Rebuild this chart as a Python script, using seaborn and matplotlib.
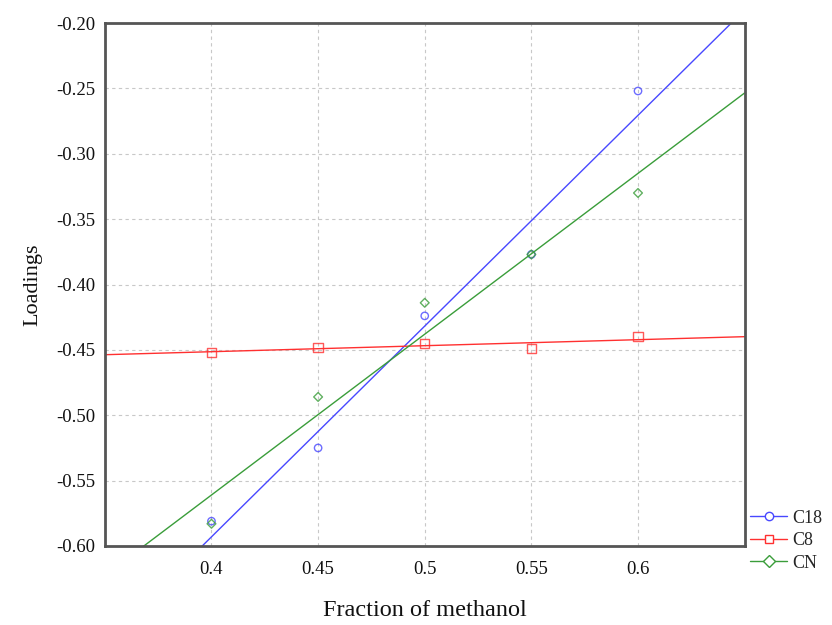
import matplotlib
matplotlib.use("Agg")
import matplotlib.pyplot as plt
import seaborn as sns
import pandas as pd
from matplotlib.lines import Line2D

# Data
fraction = [0.40, 0.45, 0.50, 0.55, 0.60]
c18 = [-0.581, -0.525, -0.424, -0.377, -0.252]
c8 = [-0.452, -0.448, -0.445, -0.449, -0.440]
cn = [-0.583, -0.486, -0.414, -0.377, -0.330]
series_names = ["C18", "C8", "CN"]
x_ticks = [0.4, 0.45, 0.5, 0.55, 0.6]
x_tick_labels = ["0.4", "0.45", "0.5", "0.55", "0.6"]
y_ticks = [-0.60, -0.55, -0.50, -0.45, -0.40, -0.35, -0.30, -0.25, -0.20]
y_tick_labels = ["-0.60", "-0.55", "-0.50", "-0.45", "-0.40", "-0.35", "-0.30", "-0.25", "-0.20"]

df = pd.DataFrame({"Fraction of methanol": fraction, "C18": c18, "C8": c8, "CN": cn})

sns.set_theme(style="white")
plt.rcParams["font.family"] = ["Liberation Serif", "DejaVu Serif"]

fig = plt.figure(figsize=(8.32, 6.25), dpi=100)
ax = fig.add_axes([0.126, 0.1264, 0.769, 0.8368])
ax.set_xlim(0.35, 0.65)
ax.set_ylim(-0.60, -0.20)

colors = {"C18": "#4848ff", "C8": "#ff3030", "CN": "#3a9d3a"}
markers = {"C18": "o", "C8": "s", "CN": "D"}
msizes = {"C18": 28, "C8": 45, "CN": 20}

for name in series_names:
    sns.regplot(data=df, x="Fraction of methanol", y=name, ax=ax, ci=None,
                truncate=False, marker=markers[name],
                scatter_kws=dict(s=msizes[name], facecolors="none",
                                 edgecolors=colors[name], linewidths=1.0),
                line_kws=dict(color=colors[name], lw=1.0))

ax.set_xlim(0.35, 0.65)
ax.set_ylim(-0.60, -0.20)
ax.set_xticks(x_ticks)
ax.set_xticklabels(x_tick_labels)
ax.set_yticks(y_ticks)
ax.set_yticklabels(y_tick_labels)
ax.tick_params(axis="both", direction="in", length=3, width=1.2, colors="#333333",
               labelsize=13.5, labelcolor="#111111")
ax.tick_params(axis="x", pad=11)
ax.tick_params(axis="y", pad=7)
ax.grid(True, linestyle=(0, (3, 3)), color="#c8c8c8", linewidth=0.8)
for s in ax.spines.values():
    s.set_visible(True)
    s.set_color("#555555")
    s.set_linewidth(2)

ax.set_xlabel("Fraction of methanol", fontsize=17.5, color="#111111", labelpad=16)
ax.set_ylabel("Loadings", fontsize=16, color="#111111", labelpad=10)

handles = [Line2D([0], [0], color=colors[n], lw=1.0, marker=markers[n],
                  markerfacecolor="white", markeredgecolor=colors[n],
                  markersize=6) for n in series_names]
fig.legend(handles, series_names, loc="center left", bbox_to_anchor=(0.902, 0.135),
           frameon=False, fontsize=13, handlelength=2.0, handletextpad=0.3,
           labelspacing=0.3, borderpad=0, borderaxespad=0)

fig.savefig("out.png", dpi=100)
